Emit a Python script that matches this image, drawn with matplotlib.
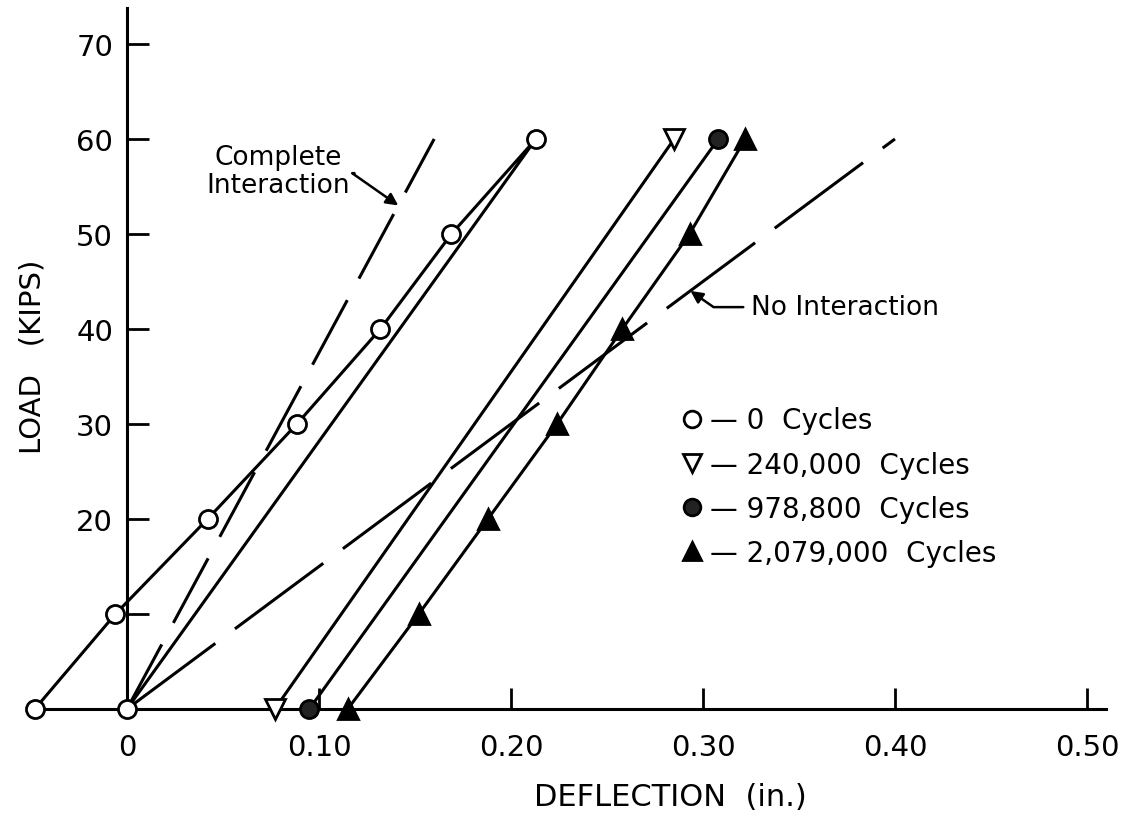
import matplotlib
matplotlib.use("Agg")
import matplotlib.pyplot as plt
from matplotlib.lines import Line2D

# ---- data ----
load_pts = [0, 10, 20, 30, 40, 50, 60]
defl_0cyc = [-0.048, -0.006, 0.042, 0.0885, 0.132, 0.169, 0.213, 0.0]
load_0cyc = [0, 10, 20, 30, 40, 50, 60, 0]
defl_240k = [0.077, 0.285]
load_240k = [0, 60]
defl_978k = [0.095, 0.308]
load_978k = [0, 60]
defl_2079k = [0.115, 0.152, 0.188, 0.224, 0.258, 0.293, 0.322]
load_2079k = load_pts
defl_complete = [0.0, 0.160]
load_complete = [0, 60]
defl_none = [0.0, 0.400]
load_none = [0, 60]

xticks = [0.0, 0.10, 0.20, 0.30, 0.40, 0.50]
xticklabels = ["0", "0.10", "0.20", "0.30", "0.40", "0.50"]
yticks = [10, 20, 30, 40, 50, 60, 70]
yticklabels = ["", "20", "30", "40", "50", "60", "70"]
legend_labels = ["\u2014 0  Cycles", "\u2014 240,000  Cycles",
                 "\u2014 978,800  Cycles", "\u2014 2,079,000  Cycles"]

plt.rcParams['font.family'] = ['DejaVu Sans']
fig = plt.figure(figsize=(11.44, 8.2), dpi=100)
ax = fig.add_axes([0.0103, 0.111, 0.9734, 0.8863])
ax.set_xlim(-0.06, 0.52)
ax.set_ylim(-2, 74.5)

lw = 2.2
ms = 13
mew = 2.0
ax.plot(defl_complete, load_complete, color='black', lw=lw, ls=(0, (24, 8)), zorder=2)
ax.plot(defl_none, load_none, color='black', lw=lw, ls=(0, (36, 8)), zorder=2)
ax.plot(defl_0cyc, load_0cyc, color='black', lw=lw, marker='o', ms=ms,
        mfc='white', mec='black', mew=mew, clip_on=False, zorder=3)
ax.plot(defl_240k, load_240k, color='black', lw=lw, marker='v', ms=ms + 1,
        mfc='white', mec='black', mew=mew, clip_on=False, zorder=3)
ax.plot(defl_978k, load_978k, color='black', lw=lw, marker='o', ms=ms,
        mfc='#222222', mec='black', mew=mew, clip_on=False, zorder=3)
ax.plot(defl_2079k, load_2079k, color='black', lw=lw, marker='^', ms=ms + 1,
        mfc='black', mec='black', mew=mew, clip_on=False, zorder=3)

# spines
for s in ['top', 'right']:
    ax.spines[s].set_visible(False)
ax.spines['left'].set_position(('data', 0))
ax.spines['bottom'].set_position(('data', 0))
ax.spines['left'].set_bounds(0, 73.8)
ax.spines['bottom'].set_bounds(-0.05, 0.51)
ax.spines['left'].set_linewidth(2.2)
ax.spines['bottom'].set_linewidth(2.2)

ax.set_xticks(xticks)
ax.set_xticklabels(xticklabels)
ax.set_yticks(yticks)
ax.set_yticklabels(yticklabels)
ax.tick_params(axis='x', direction='in', length=15, width=2, labelsize=21, pad=17)
ax.tick_params(axis='y', direction='in', length=16, width=2, labelsize=21, pad=10)

fig.text(0.586, 0.028, "DEFLECTION  (in.)", fontsize=22, ha='center', va='center')
fig.text(0.028, 0.565, "LOAD   (KIPS)", fontsize=21, ha='center', va='center',
         rotation=90)

# annotations
ax.text(0.079, 56.6, "Complete\nInteraction", fontsize=19, ha='center',
        va='center', linespacing=1.1)
ax.annotate("", xy=(0.1413, 53.0), xytext=(0.1185, 56.4),
            arrowprops=dict(arrowstyle='-|>', color='black', lw=1.8,
                            mutation_scale=18, shrinkA=0, shrinkB=0,
                            connectionstyle='angle,angleA=0,angleB=145,rad=0'))
ax.text(0.325, 42.3, "No Interaction", fontsize=19, ha='left', va='center')
ax.annotate("", xy=(0.2935, 44.0), xytext=(0.321, 42.3),
            arrowprops=dict(arrowstyle='-|>', color='black', lw=1.8,
                            mutation_scale=18, shrinkA=0, shrinkB=0,
                            connectionstyle='angle,angleA=0,angleB=-35,rad=0'))

# legend
handles = [
    Line2D([], [], ls='none', marker='o', ms=12, mfc='white', mec='black', mew=2),
    Line2D([], [], ls='none', marker='v', ms=13, mfc='white', mec='black', mew=2),
    Line2D([], [], ls='none', marker='o', ms=12, mfc='#222222', mec='black', mew=2),
    Line2D([], [], ls='none', marker='^', ms=13, mfc='black', mec='black', mew=2),
]
ax.legend(handles, legend_labels, loc='upper left', bbox_to_anchor=(0.583, 0.52),
          bbox_transform=fig.transFigure, frameon=False, fontsize=20,
          handlelength=0.8, handletextpad=0.25, labelspacing=0.58, borderpad=0)

fig.savefig("out.png", dpi=100)
